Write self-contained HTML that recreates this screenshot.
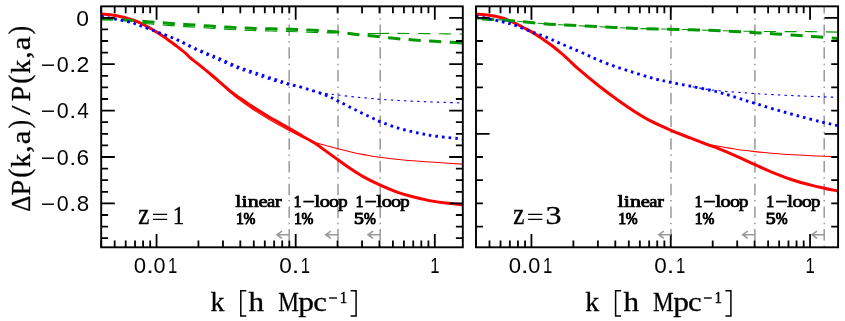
<!DOCTYPE html>
<html><head><meta charset="utf-8"><title>chart</title>
<style>html,body{margin:0;padding:0;background:#fff}svg{display:block}text{fill:#000}</style></head>
<body>
<svg width="845" height="321" viewBox="0 0 845 321">
<defs><clipPath id="c1"><rect x="101.20" y="6.35" width="361.60" height="240.95"/></clipPath><clipPath id="c2"><rect x="476.00" y="6.35" width="362.10" height="240.95"/></clipPath></defs>
<rect width="845" height="321" fill="#fff"/>
<line x1="289.20" y1="1.9" x2="289.20" y2="247.30" stroke="#999999" stroke-width="1.5" stroke-dasharray="11.5 4.86 1.5 4.86" clip-path="url(#c1)"/>
<line x1="338.00" y1="1.9" x2="338.00" y2="247.30" stroke="#999999" stroke-width="1.5" stroke-dasharray="11.5 4.86 1.5 4.86" clip-path="url(#c1)"/>
<line x1="380.20" y1="1.9" x2="380.20" y2="247.30" stroke="#999999" stroke-width="1.5" stroke-dasharray="11.5 4.86 1.5 4.86" clip-path="url(#c1)"/>
<line x1="671.00" y1="1.9" x2="671.00" y2="247.30" stroke="#999999" stroke-width="1.5" stroke-dasharray="11.5 4.86 1.5 4.86" clip-path="url(#c2)"/>
<line x1="754.90" y1="1.9" x2="754.90" y2="247.30" stroke="#999999" stroke-width="1.5" stroke-dasharray="11.5 4.86 1.5 4.86" clip-path="url(#c2)"/>
<line x1="824.20" y1="1.9" x2="824.20" y2="247.30" stroke="#999999" stroke-width="1.5" stroke-dasharray="11.5 4.86 1.5 4.86" clip-path="url(#c2)"/>
<g clip-path="url(#c1)">
<path d="M198.90 64.80 C201.02 66.60 207.77 72.25 211.60 75.60 C215.43 78.95 219.10 82.35 221.90 84.90 C224.70 87.45 226.05 88.85 228.40 90.90 C230.75 92.95 233.73 95.40 236.00 97.20 C238.27 99.00 239.87 100.15 242.00 101.70 C244.13 103.25 246.63 105.00 248.80 106.50 C250.97 108.00 251.82 108.67 255.00 110.70 C258.18 112.73 262.28 115.45 267.90 118.70 C273.52 121.95 282.93 127.12 288.70 130.20 C294.47 133.28 298.33 135.23 302.50 137.20 C306.67 139.17 309.95 140.67 313.70 142.00 C317.45 143.33 320.95 144.07 325.00 145.20 C329.05 146.33 333.50 147.63 338.00 148.80 C342.50 149.97 347.43 151.18 352.00 152.20 C356.57 153.22 360.73 154.05 365.40 154.90 C370.07 155.75 373.62 156.45 380.00 157.30 C386.38 158.15 396.00 159.25 403.70 160.00 C411.40 160.75 418.70 161.27 426.20 161.80 C433.70 162.33 442.60 162.82 448.70 163.20 C454.80 163.58 460.45 163.95 462.80 164.10" fill="none" stroke="#ff0000" stroke-width="1.1"/>
<path d="M101.20 14.10 C103.53 14.33 110.67 14.75 115.20 15.50 C119.73 16.25 124.62 17.55 128.40 18.60 C132.18 19.65 134.75 20.48 137.90 21.80 C141.05 23.12 144.15 24.77 147.30 26.50 C150.45 28.23 153.63 30.22 156.80 32.20 C159.97 34.18 163.13 36.18 166.30 38.40 C169.47 40.62 172.65 43.08 175.80 45.50 C178.95 47.92 182.83 50.88 185.20 52.90 C187.57 54.92 187.72 55.65 190.00 57.60 C192.28 59.55 195.30 61.70 198.90 64.60 C202.50 67.50 207.77 71.78 211.60 75.00 C215.43 78.22 219.10 81.47 221.90 83.90 C224.70 86.33 226.05 87.68 228.40 89.60 C230.75 91.52 233.73 93.73 236.00 95.40 C238.27 97.07 239.87 98.13 242.00 99.60 C244.13 101.07 246.63 102.75 248.80 104.20 C250.97 105.65 251.82 106.28 255.00 108.30 C258.18 110.32 262.28 113.00 267.90 116.30 C273.52 119.60 282.93 124.78 288.70 128.10 C294.47 131.42 298.33 133.78 302.50 136.20 C306.67 138.62 309.95 140.23 313.70 142.60 C317.45 144.97 320.95 147.53 325.00 150.40 C329.05 153.27 333.85 156.82 338.00 159.80 C342.15 162.78 345.72 165.50 349.90 168.30 C354.08 171.10 358.13 173.83 363.10 176.60 C368.07 179.37 374.17 182.37 379.70 184.90 C385.23 187.43 390.78 189.82 396.30 191.80 C401.82 193.78 407.28 195.33 412.80 196.80 C418.32 198.27 423.87 199.55 429.40 200.60 C434.93 201.65 440.43 202.40 446.00 203.10 C451.57 203.80 460.00 204.52 462.80 204.80" fill="none" stroke="#ff0000" stroke-width="3.0"/>
<path d="M101.20 18.90 C105.10 19.07 116.92 19.10 124.60 19.90 C132.28 20.70 140.03 22.80 147.30 23.72 C154.57 24.63 161.25 24.87 168.20 25.40 C175.15 25.93 182.07 26.43 189.00 26.90 C195.93 27.37 202.85 27.77 209.80 28.20 C216.75 28.63 223.75 29.12 230.70 29.50 C237.65 29.88 241.78 30.17 251.50 30.50 C261.22 30.83 278.67 31.17 289.00 31.50 C299.33 31.83 305.78 32.24 313.50 32.50 C321.22 32.76 331.67 32.96 335.30 33.05" fill="none" stroke="#009a00" stroke-width="1.1" stroke-dasharray="12 8.55"/>
<path d="M367.70 33.45 C369.27 33.46 375.53 33.49 377.10 33.50" fill="none" stroke="#009a00" stroke-width="1.1"/>
<path d="M377.10 33.50 C379.65 33.48 386.22 33.40 392.40 33.40 C398.58 33.40 406.03 33.43 414.20 33.50 C422.37 33.57 433.30 33.70 441.40 33.80 C449.50 33.90 459.23 34.05 462.80 34.10" fill="none" stroke="#009a00" stroke-width="1.1" stroke-dasharray="12 8.6"/>
<path d="M101.20 18.90 C105.10 19.07 116.92 19.42 124.60 19.90 C132.28 20.38 140.03 21.22 147.30 21.77 C154.57 22.32 161.25 22.71 168.20 23.20 C175.15 23.69 182.07 24.23 189.00 24.70 C195.93 25.17 202.85 25.57 209.80 26.00 C216.75 26.43 223.75 26.92 230.70 27.30 C237.65 27.68 241.78 27.97 251.50 28.30 C261.22 28.63 278.67 28.97 289.00 29.30 C299.33 29.63 305.78 29.88 313.50 30.30 C321.22 30.72 328.50 31.15 335.30 31.80 C342.10 32.45 348.02 33.52 354.30 34.20 C360.58 34.88 366.42 35.22 373.00 35.90 C379.58 36.58 387.00 37.62 393.80 38.30 C400.60 38.98 407.00 39.50 413.80 40.00 C420.60 40.50 427.67 40.87 434.60 41.30 C441.53 41.73 450.70 42.32 455.40 42.60 C460.10 42.88 461.57 42.93 462.80 43.00" fill="none" stroke="#009a00" stroke-width="3.0" stroke-dasharray="12.2 8.35"/>
<path d="M101.20 16.50 C105.73 17.38 121.97 20.28 128.40 21.80 C134.83 23.32 135.07 23.90 139.80 25.60 C144.53 27.30 151.43 29.91 156.80 32.01 C162.17 34.11 167.58 36.24 172.00 38.18 C176.42 40.11 179.52 41.71 183.30 43.62 C187.08 45.54 190.58 47.65 194.70 49.68 C198.82 51.70 203.82 53.91 208.00 55.78 C212.18 57.66 215.00 58.78 219.80 60.90 C224.60 63.02 230.80 66.13 236.80 68.50 C242.80 70.87 249.48 72.95 255.80 75.10 C262.12 77.25 269.18 79.71 274.70 81.40 C280.22 83.09 283.72 84.03 288.90 85.22 C294.08 86.40 302.98 87.97 305.80 88.52" fill="none" stroke="#0000ff" stroke-width="1.1" stroke-dasharray="2.3 4.3"/>
<path d="M305.80 89.30 C308.95 89.97 319.33 92.35 324.70 93.30 C330.07 94.25 332.95 94.38 338.00 95.00 C343.05 95.62 349.33 96.42 355.00 97.00 C360.67 97.58 367.82 98.12 372.00 98.50 C376.18 98.88 374.65 98.92 380.10 99.30 C385.55 99.68 395.87 100.35 404.70 100.80 C413.53 101.25 423.42 101.63 433.10 102.00 C442.78 102.37 457.85 102.83 462.80 103.00" fill="none" stroke="#0000ff" stroke-width="1.1" stroke-dasharray="2.4 4.2"/>
<path d="M101.20 16.50 C105.73 17.38 121.97 20.28 128.40 21.80 C134.83 23.32 135.07 23.93 139.80 25.60 C144.53 27.27 151.43 29.82 156.80 31.80 C162.17 33.78 167.58 35.70 172.00 37.50 C176.42 39.30 179.52 40.80 183.30 42.60 C187.08 44.40 190.58 46.40 194.70 48.30 C198.82 50.20 203.82 52.23 208.00 54.00 C212.18 55.77 215.00 56.82 219.80 58.90 C224.60 60.98 230.80 64.13 236.80 66.50 C242.80 68.87 249.48 70.95 255.80 73.10 C262.12 75.25 269.18 77.60 274.70 79.40 C280.22 81.20 283.72 82.38 288.90 83.90 C294.08 85.42 299.83 86.68 305.80 88.50 C311.77 90.32 319.33 92.72 324.70 94.80 C330.07 96.88 332.92 98.50 338.00 101.00 C343.08 103.50 349.53 106.98 355.20 109.80 C360.87 112.62 367.85 115.92 372.00 117.90 C376.15 119.88 375.60 119.97 380.10 121.70 C384.60 123.43 392.68 126.42 399.00 128.30 C405.32 130.18 411.68 131.67 418.00 133.00 C424.32 134.33 429.43 135.30 436.90 136.30 C444.37 137.30 458.48 138.55 462.80 139.00" fill="none" stroke="#0000ff" stroke-width="2.9" stroke-dasharray="2.6 4.0"/>
</g>
<g clip-path="url(#c2)">
<path d="M671.00 130.30 C674.32 131.58 684.73 135.72 690.90 138.00 C697.07 140.28 703.37 142.62 708.00 144.00 C712.63 145.38 713.80 145.38 718.70 146.30 C723.60 147.22 731.33 148.62 737.40 149.50 C743.47 150.38 748.87 150.93 755.10 151.60 C761.33 152.27 768.40 152.97 774.80 153.50 C781.20 154.03 787.28 154.42 793.50 154.80 C799.72 155.18 804.67 155.47 812.10 155.80 C819.53 156.13 833.77 156.63 838.10 156.80" fill="none" stroke="#ff0000" stroke-width="1.1"/>
<path d="M476.00 14.10 C478.22 14.28 484.88 14.55 489.30 15.20 C493.72 15.85 498.40 16.75 502.50 18.00 C506.60 19.25 510.43 21.12 513.90 22.70 C517.37 24.28 520.15 25.85 523.30 27.50 C526.45 29.15 529.63 30.72 532.80 32.60 C535.97 34.48 539.13 36.65 542.30 38.80 C545.47 40.95 548.65 43.10 551.80 45.50 C554.95 47.90 558.37 50.78 561.20 53.20 C564.03 55.62 565.85 57.30 568.80 60.00 C571.75 62.70 573.87 65.07 578.90 69.40 C583.93 73.73 592.65 80.98 599.00 86.00 C605.35 91.02 611.15 95.30 617.00 99.50 C622.85 103.70 628.42 107.58 634.10 111.20 C639.78 114.82 644.95 118.02 651.10 121.20 C657.25 124.38 664.37 127.47 671.00 130.30 C677.63 133.13 684.73 135.78 690.90 138.20 C697.07 140.62 703.37 143.07 708.00 144.80 C712.63 146.53 713.80 146.63 718.70 148.60 C723.60 150.57 731.33 153.92 737.40 156.60 C743.47 159.28 748.87 161.92 755.10 164.70 C761.33 167.48 768.40 170.72 774.80 173.30 C781.20 175.88 787.28 178.18 793.50 180.20 C799.72 182.22 806.97 184.07 812.10 185.40 C817.23 186.73 819.97 187.27 824.30 188.20 C828.63 189.13 835.80 190.53 838.10 191.00" fill="none" stroke="#ff0000" stroke-width="3.0"/>
<path d="M476.00 18.90 C480.10 19.07 492.72 19.42 500.60 19.90 C508.48 20.38 516.03 21.17 523.30 21.80 C530.57 22.43 537.25 23.17 544.20 23.70 C551.15 24.23 558.07 24.60 565.00 25.00 C571.93 25.40 578.85 25.75 585.80 26.10 C592.75 26.45 599.75 26.78 606.70 27.10 C613.65 27.42 621.95 27.75 627.50 28.00 C633.05 28.25 632.87 28.40 640.00 28.60 C647.13 28.80 661.47 29.00 670.30 29.20 C679.13 29.40 684.27 29.53 693.00 29.80 C701.73 30.07 714.17 30.57 722.70 30.80 C731.23 31.03 737.02 31.08 744.20 31.20 C751.38 31.32 758.37 31.43 765.80 31.50 C773.23 31.57 781.37 31.58 788.80 31.60 C796.23 31.62 802.18 31.52 810.40 31.60 C818.62 31.68 833.48 32.02 838.10 32.10" fill="none" stroke="#009a00" stroke-width="1.1" stroke-dasharray="12 8.6"/>
<path d="M476.00 18.90 C480.10 19.07 492.72 19.42 500.60 19.90 C508.48 20.38 516.03 21.17 523.30 21.80 C530.57 22.43 537.25 23.17 544.20 23.70 C551.15 24.23 558.07 24.60 565.00 25.00 C571.93 25.40 578.85 25.75 585.80 26.10 C592.75 26.45 599.75 26.78 606.70 27.10 C613.65 27.42 621.95 27.75 627.50 28.00 C633.05 28.25 632.87 28.40 640.00 28.60 C647.13 28.80 661.47 29.00 670.30 29.20 C679.13 29.40 685.55 29.60 693.00 29.80 C700.45 30.00 708.00 30.12 715.00 30.40 C722.00 30.68 728.33 31.12 735.00 31.50 C741.67 31.88 748.33 32.30 755.00 32.70 C761.67 33.10 768.20 33.47 775.00 33.90 C781.80 34.33 788.88 34.82 795.80 35.30 C802.72 35.78 809.45 36.25 816.50 36.80 C823.55 37.35 834.50 38.30 838.10 38.60" fill="none" stroke="#009a00" stroke-width="3.0" stroke-dasharray="12.2 8.4" stroke-dashoffset="14.6"/>
<path d="M692.60 86.80 C694.67 87.17 700.55 88.33 705.00 89.00 C709.45 89.67 714.07 90.27 719.30 90.80 C724.53 91.33 730.48 91.73 736.40 92.20 C742.32 92.67 748.18 93.17 754.80 93.60 C761.42 94.03 768.75 94.42 776.10 94.80 C783.45 95.18 791.32 95.57 798.90 95.90 C806.48 96.23 815.07 96.57 821.60 96.80 C828.13 97.03 835.35 97.22 838.10 97.30" fill="none" stroke="#0000ff" stroke-width="1.1" stroke-dasharray="2.4 4.2"/>
<path d="M476.00 16.10 C480.42 17.05 495.87 20.22 502.50 21.80 C509.13 23.38 510.75 23.87 515.80 25.60 C520.85 27.33 527.43 30.15 532.80 32.20 C538.17 34.25 543.58 36.10 548.00 37.90 C552.42 39.70 555.52 41.35 559.30 43.00 C563.08 44.65 566.58 46.05 570.70 47.80 C574.82 49.55 579.47 51.48 584.00 53.50 C588.53 55.52 592.43 57.63 597.90 59.90 C603.37 62.17 610.48 64.90 616.80 67.10 C623.12 69.30 629.48 71.15 635.80 73.10 C642.12 75.05 648.87 77.25 654.70 78.80 C660.53 80.35 664.48 81.10 670.80 82.40 C677.12 83.70 685.02 85.07 692.60 86.60 C700.18 88.13 709.00 89.77 716.30 91.60 C723.60 93.43 729.98 95.65 736.40 97.60 C742.82 99.55 748.18 101.27 754.80 103.30 C761.42 105.33 768.75 107.67 776.10 109.80 C783.45 111.93 791.32 114.07 798.90 116.10 C806.48 118.13 815.07 120.40 821.60 122.00 C828.13 123.60 835.35 125.08 838.10 125.70" fill="none" stroke="#0000ff" stroke-width="2.9" stroke-dasharray="2.6 4.0"/>
</g>
<rect x="101.20" y="6.35" width="361.60" height="240.95" fill="none" stroke="#000" stroke-width="1.9"/>
<path d="M101.20 6.35 v6.80 M101.20 247.30 v-6.80 M114.68 6.35 v6.80 M114.68 247.30 v-6.80 M125.70 6.35 v6.80 M125.70 247.30 v-6.80 M135.01 6.35 v6.80 M135.01 247.30 v-6.80 M143.08 6.35 v6.80 M143.08 247.30 v-6.80 M150.19 6.35 v6.80 M150.19 247.30 v-6.80 M156.56 6.35 v13.40 M156.56 247.30 v-13.40 M198.44 6.35 v6.80 M198.44 247.30 v-6.80 M222.94 6.35 v6.80 M222.94 247.30 v-6.80 M240.32 6.35 v6.80 M240.32 247.30 v-6.80 M253.80 6.35 v6.80 M253.80 247.30 v-6.80 M264.81 6.35 v6.80 M264.81 247.30 v-6.80 M274.13 6.35 v6.80 M274.13 247.30 v-6.80 M282.20 6.35 v6.80 M282.20 247.30 v-6.80 M289.31 6.35 v6.80 M289.31 247.30 v-6.80 M295.68 6.35 v13.40 M295.68 247.30 v-13.40 M337.56 6.35 v6.80 M337.56 247.30 v-6.80 M362.05 6.35 v6.80 M362.05 247.30 v-6.80 M379.44 6.35 v6.80 M379.44 247.30 v-6.80 M392.92 6.35 v6.80 M392.92 247.30 v-6.80 M403.93 6.35 v6.80 M403.93 247.30 v-6.80 M413.25 6.35 v6.80 M413.25 247.30 v-6.80 M421.31 6.35 v6.80 M421.31 247.30 v-6.80 M428.43 6.35 v6.80 M428.43 247.30 v-6.80 M434.80 6.35 v13.40 M434.80 247.30 v-13.40 M101.20 17.80 h13.6 M462.80 17.80 h-13.6 M101.20 64.20 h13.6 M462.80 64.20 h-13.6 M101.20 110.60 h13.6 M462.80 110.60 h-13.6 M101.20 157.00 h13.6 M462.80 157.00 h-13.6 M101.20 203.40 h13.6 M462.80 203.40 h-13.6 M101.20 29.40 h6.9 M462.80 29.40 h-6.9 M101.20 41.00 h6.9 M462.80 41.00 h-6.9 M101.20 52.60 h6.9 M462.80 52.60 h-6.9 M101.20 75.80 h6.9 M462.80 75.80 h-6.9 M101.20 87.40 h6.9 M462.80 87.40 h-6.9 M101.20 99.00 h6.9 M462.80 99.00 h-6.9 M101.20 122.20 h6.9 M462.80 122.20 h-6.9 M101.20 133.80 h6.9 M462.80 133.80 h-6.9 M101.20 145.40 h6.9 M462.80 145.40 h-6.9 M101.20 168.60 h6.9 M462.80 168.60 h-6.9 M101.20 180.20 h6.9 M462.80 180.20 h-6.9 M101.20 191.80 h6.9 M462.80 191.80 h-6.9 M101.20 215.00 h6.9 M462.80 215.00 h-6.9 M101.20 226.60 h6.9 M462.80 226.60 h-6.9 M101.20 238.20 h6.9 M462.80 238.20 h-6.9" stroke="#000" stroke-width="1.8" fill="none"/>
<rect x="476.00" y="6.35" width="362.10" height="240.95" fill="none" stroke="#000" stroke-width="1.9"/>
<path d="M476.00 6.35 v6.80 M476.00 247.30 v-6.80 M489.50 6.35 v6.80 M489.50 247.30 v-6.80 M500.53 6.35 v6.80 M500.53 247.30 v-6.80 M509.86 6.35 v6.80 M509.86 247.30 v-6.80 M517.94 6.35 v6.80 M517.94 247.30 v-6.80 M525.06 6.35 v6.80 M525.06 247.30 v-6.80 M531.44 6.35 v13.40 M531.44 247.30 v-13.40 M573.37 6.35 v6.80 M573.37 247.30 v-6.80 M597.90 6.35 v6.80 M597.90 247.30 v-6.80 M615.31 6.35 v6.80 M615.31 247.30 v-6.80 M628.81 6.35 v6.80 M628.81 247.30 v-6.80 M639.84 6.35 v6.80 M639.84 247.30 v-6.80 M649.17 6.35 v6.80 M649.17 247.30 v-6.80 M657.25 6.35 v6.80 M657.25 247.30 v-6.80 M664.37 6.35 v6.80 M664.37 247.30 v-6.80 M670.75 6.35 v13.40 M670.75 247.30 v-13.40 M712.68 6.35 v6.80 M712.68 247.30 v-6.80 M737.21 6.35 v6.80 M737.21 247.30 v-6.80 M754.62 6.35 v6.80 M754.62 247.30 v-6.80 M768.12 6.35 v6.80 M768.12 247.30 v-6.80 M779.15 6.35 v6.80 M779.15 247.30 v-6.80 M788.48 6.35 v6.80 M788.48 247.30 v-6.80 M796.56 6.35 v6.80 M796.56 247.30 v-6.80 M803.68 6.35 v6.80 M803.68 247.30 v-6.80 M810.06 6.35 v13.40 M810.06 247.30 v-13.40 M476.00 17.80 h13.6 M838.10 17.80 h-13.6 M476.00 133.80 h13.6 M838.10 133.80 h-13.6 M476.00 41.00 h6.9 M838.10 41.00 h-6.9 M476.00 64.20 h6.9 M838.10 64.20 h-6.9 M476.00 87.40 h6.9 M838.10 87.40 h-6.9 M476.00 110.60 h6.9 M838.10 110.60 h-6.9 M476.00 157.00 h6.9 M838.10 157.00 h-6.9 M476.00 180.20 h6.9 M838.10 180.20 h-6.9 M476.00 203.40 h6.9 M838.10 203.40 h-6.9 M476.00 226.60 h6.9 M838.10 226.60 h-6.9" stroke="#000" stroke-width="1.8" fill="none"/>
<path d="M289.20 234.70 H277.80 M282.00 231.10 L277.00 234.70 L282.00 238.30" stroke="#999999" stroke-width="1.6" fill="none" stroke-linejoin="miter"/>
<path d="M338.00 234.70 H326.60 M330.80 231.10 L325.80 234.70 L330.80 238.30" stroke="#999999" stroke-width="1.6" fill="none" stroke-linejoin="miter"/>
<path d="M380.20 234.70 H368.80 M373.00 231.10 L368.00 234.70 L373.00 238.30" stroke="#999999" stroke-width="1.6" fill="none" stroke-linejoin="miter"/>
<path d="M671.00 234.70 H659.60 M663.80 231.10 L658.80 234.70 L663.80 238.30" stroke="#999999" stroke-width="1.6" fill="none" stroke-linejoin="miter"/>
<path d="M754.90 234.70 H743.50 M747.70 231.10 L742.70 234.70 L747.70 238.30" stroke="#999999" stroke-width="1.6" fill="none" stroke-linejoin="miter"/>
<path d="M824.20 234.70 H812.80 M817.00 231.10 L812.00 234.70 L817.00 238.30" stroke="#999999" stroke-width="1.6" fill="none" stroke-linejoin="miter"/>
<g id="labels" style="opacity:0.999">
<text transform="translate(76.28 25.60) scale(1.096 1.020)" font-family="Liberation Sans" font-weight="normal" font-size="20.9" fill="#000">0</text>
<text transform="translate(40.86 72.00) scale(1.184 1.000)" font-family="Liberation Sans" font-weight="normal" font-size="20.9" fill="#000">−</text>
<text transform="translate(56.74 72.00) scale(1.027 1.020)" font-family="Liberation Sans" font-weight="normal" font-size="20.9" fill="#000">0</text>
<text transform="translate(69.33 72.00) scale(1.209 1.000)" font-family="Liberation Sans" font-weight="normal" font-size="20.9" fill="#000">.</text>
<text transform="translate(76.55 72.00) scale(1.104 1.020)" font-family="Liberation Sans" font-weight="normal" font-size="20.9" fill="#000">2</text>
<text transform="translate(40.86 118.40) scale(1.184 1.000)" font-family="Liberation Sans" font-weight="normal" font-size="20.9" fill="#000">−</text>
<text transform="translate(56.74 118.40) scale(1.027 1.020)" font-family="Liberation Sans" font-weight="normal" font-size="20.9" fill="#000">0</text>
<text transform="translate(69.33 118.40) scale(1.209 1.000)" font-family="Liberation Sans" font-weight="normal" font-size="20.9" fill="#000">.</text>
<text transform="translate(77.28 118.40) scale(0.995 1.020)" font-family="Liberation Sans" font-weight="normal" font-size="20.9" fill="#000">4</text>
<text transform="translate(40.86 164.80) scale(1.184 1.000)" font-family="Liberation Sans" font-weight="normal" font-size="20.9" fill="#000">−</text>
<text transform="translate(56.74 164.80) scale(1.027 1.020)" font-family="Liberation Sans" font-weight="normal" font-size="20.9" fill="#000">0</text>
<text transform="translate(69.33 164.80) scale(1.209 1.000)" font-family="Liberation Sans" font-weight="normal" font-size="20.9" fill="#000">.</text>
<text transform="translate(76.57 164.80) scale(1.080 1.020)" font-family="Liberation Sans" font-weight="normal" font-size="20.9" fill="#000">6</text>
<text transform="translate(40.86 211.20) scale(1.184 1.000)" font-family="Liberation Sans" font-weight="normal" font-size="20.9" fill="#000">−</text>
<text transform="translate(56.74 211.20) scale(1.027 1.020)" font-family="Liberation Sans" font-weight="normal" font-size="20.9" fill="#000">0</text>
<text transform="translate(69.33 211.20) scale(1.209 1.000)" font-family="Liberation Sans" font-weight="normal" font-size="20.9" fill="#000">.</text>
<text transform="translate(76.69 211.20) scale(1.069 1.020)" font-family="Liberation Sans" font-weight="normal" font-size="20.9" fill="#000">8</text>
<text transform="translate(133.82 273.40) scale(1.062 1.020)" font-family="Liberation Sans" font-weight="normal" font-size="20.9" fill="#000">0</text>
<text transform="translate(146.22 273.40) scale(1.300 1.020)" font-family="Liberation Sans" font-weight="normal" font-size="20.9" fill="#000">.</text>
<text transform="translate(153.49 273.40) scale(1.037 1.020)" font-family="Liberation Sans" font-weight="normal" font-size="20.9" fill="#000">0</text>
<text transform="translate(168.12 273.40) scale(0.800 1.020)" font-family="Liberation Sans" font-weight="normal" font-size="20.9" fill="#000">1</text>
<text transform="translate(279.28 273.40) scale(1.077 1.020)" font-family="Liberation Sans" font-weight="normal" font-size="20.9" fill="#000">0</text>
<text transform="translate(291.79 273.40) scale(1.300 1.020)" font-family="Liberation Sans" font-weight="normal" font-size="20.9" fill="#000">.</text>
<text transform="translate(300.84 273.40) scale(0.800 1.020)" font-family="Liberation Sans" font-weight="normal" font-size="20.9" fill="#000">1</text>
<text transform="translate(430.16 273.40) scale(0.800 1.020)" font-family="Liberation Sans" font-weight="normal" font-size="20.9" fill="#000">1</text>
<text transform="translate(508.70 273.40) scale(1.062 1.020)" font-family="Liberation Sans" font-weight="normal" font-size="20.9" fill="#000">0</text>
<text transform="translate(521.10 273.40) scale(1.300 1.020)" font-family="Liberation Sans" font-weight="normal" font-size="20.9" fill="#000">.</text>
<text transform="translate(528.37 273.40) scale(1.037 1.020)" font-family="Liberation Sans" font-weight="normal" font-size="20.9" fill="#000">0</text>
<text transform="translate(543.00 273.40) scale(0.800 1.020)" font-family="Liberation Sans" font-weight="normal" font-size="20.9" fill="#000">1</text>
<text transform="translate(654.35 273.40) scale(1.077 1.020)" font-family="Liberation Sans" font-weight="normal" font-size="20.9" fill="#000">0</text>
<text transform="translate(666.86 273.40) scale(1.300 1.020)" font-family="Liberation Sans" font-weight="normal" font-size="20.9" fill="#000">.</text>
<text transform="translate(675.91 273.40) scale(0.800 1.020)" font-family="Liberation Sans" font-weight="normal" font-size="20.9" fill="#000">1</text>
<text transform="translate(805.42 273.40) scale(0.800 1.020)" font-family="Liberation Sans" font-weight="normal" font-size="20.9" fill="#000">1</text>
<text transform="translate(210.54 310.80) scale(1.053 1.000)" font-family="Liberation Serif" font-weight="normal" font-size="26.5" fill="#000" stroke="#000" stroke-width="0.3">k</text>
<text transform="translate(248.59 310.80) scale(1.176 1.000)" font-family="Liberation Serif" font-weight="normal" font-size="26.5" fill="#000" stroke="#000" stroke-width="0.3">h</text>
<text transform="translate(278.20 310.80) scale(0.877 1.000)" font-family="Liberation Serif" font-weight="normal" font-size="26.5" fill="#000" stroke="#000" stroke-width="0.3">M</text>
<text transform="translate(298.33 310.80) scale(1.187 1.000)" font-family="Liberation Serif" font-weight="normal" font-size="26.5" fill="#000" stroke="#000" stroke-width="0.3">p</text>
<text transform="translate(313.17 310.80) scale(1.157 1.000)" font-family="Liberation Serif" font-weight="normal" font-size="26.5" fill="#000" stroke="#000" stroke-width="0.3">c</text>
<text transform="translate(339.63 303.20) scale(0.910 1.000)" font-family="Liberation Serif" font-weight="normal" font-size="16.4" fill="#000" stroke="#000" stroke-width="0.4">1</text>
<path d="M329.10 298 H337.00" stroke="#000" stroke-width="1.4" fill="none"/>
<path d="M246.30 290.8 H240.80 V315.9 H246.30" stroke="#000" stroke-width="1.5" fill="none"/>
<path d="M350.60 290.8 H356.10 V315.9 H350.60" stroke="#000" stroke-width="1.5" fill="none"/>
<text transform="translate(585.34 310.80) scale(1.053 1.000)" font-family="Liberation Serif" font-weight="normal" font-size="26.5" fill="#000" stroke="#000" stroke-width="0.3">k</text>
<text transform="translate(623.39 310.80) scale(1.176 1.000)" font-family="Liberation Serif" font-weight="normal" font-size="26.5" fill="#000" stroke="#000" stroke-width="0.3">h</text>
<text transform="translate(653.00 310.80) scale(0.877 1.000)" font-family="Liberation Serif" font-weight="normal" font-size="26.5" fill="#000" stroke="#000" stroke-width="0.3">M</text>
<text transform="translate(673.13 310.80) scale(1.187 1.000)" font-family="Liberation Serif" font-weight="normal" font-size="26.5" fill="#000" stroke="#000" stroke-width="0.3">p</text>
<text transform="translate(687.97 310.80) scale(1.157 1.000)" font-family="Liberation Serif" font-weight="normal" font-size="26.5" fill="#000" stroke="#000" stroke-width="0.3">c</text>
<text transform="translate(714.43 303.20) scale(0.910 1.000)" font-family="Liberation Serif" font-weight="normal" font-size="16.4" fill="#000" stroke="#000" stroke-width="0.4">1</text>
<path d="M703.90 298 H711.80" stroke="#000" stroke-width="1.4" fill="none"/>
<path d="M621.10 290.8 H615.60 V315.9 H621.10" stroke="#000" stroke-width="1.5" fill="none"/>
<path d="M725.40 290.8 H730.90 V315.9 H725.40" stroke="#000" stroke-width="1.5" fill="none"/>
<text transform="translate(138.17 224.10) scale(0.948 1.080)" font-family="Liberation Serif" font-weight="normal" font-size="26.5" fill="#000" stroke="#000" stroke-width="0.35">z</text>
<path d="M153.00 214.3 H167.20 M153.00 219.4 H167.20" stroke="#000" stroke-width="1.3" fill="none"/>
<text transform="translate(172.84 224.10) scale(0.909 1.000)" font-family="Liberation Serif" font-weight="normal" font-size="25.4" fill="#000" stroke="#000" stroke-width="0.35">1</text>
<text transform="translate(513.27 224.10) scale(0.948 1.080)" font-family="Liberation Serif" font-weight="normal" font-size="26.5" fill="#000" stroke="#000" stroke-width="0.35">z</text>
<path d="M528.10 214.3 H542.30 M528.10 219.4 H542.30" stroke="#000" stroke-width="1.3" fill="none"/>
<text transform="translate(545.56 224.10) scale(1.262 1.000)" font-family="Liberation Serif" font-weight="normal" font-size="25.4" fill="#000" stroke="#000" stroke-width="0.35">3</text>
<g transform="translate(29.7 0) rotate(-90)">
<text transform="translate(-211.71 0.00) scale(0.948 1.040)" font-family="Liberation Serif" font-weight="normal" font-size="26.5" fill="#000" stroke="#000" stroke-width="0.3">Δ</text>
<text transform="translate(-195.45 0.00) scale(1.066 1.040)" font-family="Liberation Serif" font-weight="normal" font-size="26.5" fill="#000" stroke="#000" stroke-width="0.3">P</text>
<text transform="translate(-177.82 -1.10) scale(1.021 1.090)" font-family="Liberation Serif" font-weight="normal" font-size="26.5" fill="#000" stroke="#000" stroke-width="0.3">(</text>
<text transform="translate(-167.66 0.00) scale(1.061 1.040)" font-family="Liberation Serif" font-weight="normal" font-size="26.5" fill="#000" stroke="#000" stroke-width="0.3">k</text>
<text transform="translate(-152.69 0.00) scale(1.119 1.040)" font-family="Liberation Serif" font-weight="normal" font-size="26.5" fill="#000" stroke="#000" stroke-width="0.3">,</text>
<text transform="translate(-144.29 0.00) scale(1.175 1.040)" font-family="Liberation Serif" font-weight="normal" font-size="26.5" fill="#000" stroke="#000" stroke-width="0.3">a</text>
<text transform="translate(-128.35 -1.10) scale(0.943 1.090)" font-family="Liberation Serif" font-weight="normal" font-size="26.5" fill="#000" stroke="#000" stroke-width="0.3">)</text>
<text transform="translate(-114.99 0.00) scale(1.300 1.040)" font-family="Liberation Serif" font-weight="normal" font-size="26.5" fill="#000" stroke="#000" stroke-width="0.3">/</text>
<text transform="translate(-101.45 0.00) scale(1.066 1.040)" font-family="Liberation Serif" font-weight="normal" font-size="26.5" fill="#000" stroke="#000" stroke-width="0.3">P</text>
<text transform="translate(-83.82 -1.10) scale(1.021 1.090)" font-family="Liberation Serif" font-weight="normal" font-size="26.5" fill="#000" stroke="#000" stroke-width="0.3">(</text>
<text transform="translate(-73.66 0.00) scale(1.061 1.040)" font-family="Liberation Serif" font-weight="normal" font-size="26.5" fill="#000" stroke="#000" stroke-width="0.3">k</text>
<text transform="translate(-58.69 0.00) scale(1.119 1.040)" font-family="Liberation Serif" font-weight="normal" font-size="26.5" fill="#000" stroke="#000" stroke-width="0.3">,</text>
<text transform="translate(-50.29 0.00) scale(1.175 1.040)" font-family="Liberation Serif" font-weight="normal" font-size="26.5" fill="#000" stroke="#000" stroke-width="0.3">a</text>
<text transform="translate(-34.35 -1.10) scale(0.943 1.090)" font-family="Liberation Serif" font-weight="normal" font-size="26.5" fill="#000" stroke="#000" stroke-width="0.3">)</text>
</g>
<text transform="translate(235.32 207.20) scale(1.350 1.000)" font-family="Liberation Serif" font-weight="normal" font-size="16.3" fill="#000" stroke="#000" stroke-width="0.7">l</text>
<text transform="translate(241.52 207.20) scale(1.350 1.000)" font-family="Liberation Serif" font-weight="normal" font-size="16.3" fill="#000" stroke="#000" stroke-width="0.7">i</text>
<text transform="translate(247.74 207.20) scale(1.350 1.000)" font-family="Liberation Serif" font-weight="normal" font-size="16.3" fill="#000" stroke="#000" stroke-width="0.7">n</text>
<text transform="translate(258.58 207.20) scale(1.260 1.000)" font-family="Liberation Serif" font-weight="normal" font-size="16.3" fill="#000" stroke="#000" stroke-width="0.7">e</text>
<text transform="translate(266.95 207.20) scale(1.134 1.000)" font-family="Liberation Serif" font-weight="normal" font-size="16.3" fill="#000" stroke="#000" stroke-width="0.7">a</text>
<text transform="translate(275.10 207.20) scale(1.227 1.000)" font-family="Liberation Serif" font-weight="normal" font-size="16.3" fill="#000" stroke="#000" stroke-width="0.7">r</text>
<text transform="translate(235.96 223.90) scale(0.968 1.000)" font-family="Liberation Serif" font-weight="normal" font-size="16.3" fill="#000" stroke="#000" stroke-width="1.0">1</text>
<text transform="translate(243.50 223.90) scale(0.874 1.000)" font-family="Liberation Serif" font-weight="normal" font-size="16.3" fill="#000" stroke="#000" stroke-width="1.0">%</text>
<text transform="translate(293.73 207.20) scale(0.916 1.000)" font-family="Liberation Serif" font-weight="normal" font-size="16.3" fill="#000" stroke="#000" stroke-width="1.0">1</text>
<text transform="translate(302.67 207.20) scale(1.267 1.000)" font-family="Liberation Serif" font-weight="normal" font-size="16.3" fill="#000" stroke="#000" stroke-width="1.0">−</text>
<text transform="translate(314.27 207.20) scale(1.350 1.000)" font-family="Liberation Serif" font-weight="normal" font-size="16.3" fill="#000" stroke="#000" stroke-width="0.7">l</text>
<text transform="translate(319.69 207.20) scale(1.242 1.000)" font-family="Liberation Serif" font-weight="normal" font-size="16.3" fill="#000" stroke="#000" stroke-width="0.7">o</text>
<text transform="translate(328.99 207.20) scale(1.242 1.000)" font-family="Liberation Serif" font-weight="normal" font-size="16.3" fill="#000" stroke="#000" stroke-width="0.7">o</text>
<text transform="translate(338.22 207.20) scale(1.158 1.000)" font-family="Liberation Serif" font-weight="normal" font-size="16.3" fill="#000" stroke="#000" stroke-width="0.7">p</text>
<text transform="translate(293.96 223.90) scale(0.968 1.000)" font-family="Liberation Serif" font-weight="normal" font-size="16.3" fill="#000" stroke="#000" stroke-width="1.0">1</text>
<text transform="translate(301.50 223.90) scale(0.874 1.000)" font-family="Liberation Serif" font-weight="normal" font-size="16.3" fill="#000" stroke="#000" stroke-width="1.0">%</text>
<text transform="translate(355.73 207.20) scale(0.916 1.000)" font-family="Liberation Serif" font-weight="normal" font-size="16.3" fill="#000" stroke="#000" stroke-width="1.0">1</text>
<text transform="translate(364.67 207.20) scale(1.267 1.000)" font-family="Liberation Serif" font-weight="normal" font-size="16.3" fill="#000" stroke="#000" stroke-width="1.0">−</text>
<text transform="translate(376.27 207.20) scale(1.350 1.000)" font-family="Liberation Serif" font-weight="normal" font-size="16.3" fill="#000" stroke="#000" stroke-width="0.7">l</text>
<text transform="translate(381.69 207.20) scale(1.242 1.000)" font-family="Liberation Serif" font-weight="normal" font-size="16.3" fill="#000" stroke="#000" stroke-width="0.7">o</text>
<text transform="translate(390.99 207.20) scale(1.242 1.000)" font-family="Liberation Serif" font-weight="normal" font-size="16.3" fill="#000" stroke="#000" stroke-width="0.7">o</text>
<text transform="translate(400.22 207.20) scale(1.158 1.000)" font-family="Liberation Serif" font-weight="normal" font-size="16.3" fill="#000" stroke="#000" stroke-width="0.7">p</text>
<text transform="translate(354.12 223.90) scale(1.212 1.000)" font-family="Liberation Serif" font-weight="normal" font-size="16.3" fill="#000" stroke="#000" stroke-width="1.0">5</text>
<text transform="translate(364.10 223.90) scale(0.874 1.000)" font-family="Liberation Serif" font-weight="normal" font-size="16.3" fill="#000" stroke="#000" stroke-width="1.0">%</text>
<text transform="translate(617.52 207.20) scale(1.350 1.000)" font-family="Liberation Serif" font-weight="normal" font-size="16.3" fill="#000" stroke="#000" stroke-width="0.7">l</text>
<text transform="translate(623.72 207.20) scale(1.350 1.000)" font-family="Liberation Serif" font-weight="normal" font-size="16.3" fill="#000" stroke="#000" stroke-width="0.7">i</text>
<text transform="translate(629.94 207.20) scale(1.350 1.000)" font-family="Liberation Serif" font-weight="normal" font-size="16.3" fill="#000" stroke="#000" stroke-width="0.7">n</text>
<text transform="translate(640.78 207.20) scale(1.260 1.000)" font-family="Liberation Serif" font-weight="normal" font-size="16.3" fill="#000" stroke="#000" stroke-width="0.7">e</text>
<text transform="translate(649.15 207.20) scale(1.134 1.000)" font-family="Liberation Serif" font-weight="normal" font-size="16.3" fill="#000" stroke="#000" stroke-width="0.7">a</text>
<text transform="translate(657.30 207.20) scale(1.227 1.000)" font-family="Liberation Serif" font-weight="normal" font-size="16.3" fill="#000" stroke="#000" stroke-width="0.7">r</text>
<text transform="translate(618.16 223.90) scale(0.968 1.000)" font-family="Liberation Serif" font-weight="normal" font-size="16.3" fill="#000" stroke="#000" stroke-width="1.0">1</text>
<text transform="translate(625.70 223.90) scale(0.874 1.000)" font-family="Liberation Serif" font-weight="normal" font-size="16.3" fill="#000" stroke="#000" stroke-width="1.0">%</text>
<text transform="translate(694.63 207.20) scale(0.916 1.000)" font-family="Liberation Serif" font-weight="normal" font-size="16.3" fill="#000" stroke="#000" stroke-width="1.0">1</text>
<text transform="translate(703.57 207.20) scale(1.267 1.000)" font-family="Liberation Serif" font-weight="normal" font-size="16.3" fill="#000" stroke="#000" stroke-width="1.0">−</text>
<text transform="translate(715.17 207.20) scale(1.350 1.000)" font-family="Liberation Serif" font-weight="normal" font-size="16.3" fill="#000" stroke="#000" stroke-width="0.7">l</text>
<text transform="translate(720.59 207.20) scale(1.242 1.000)" font-family="Liberation Serif" font-weight="normal" font-size="16.3" fill="#000" stroke="#000" stroke-width="0.7">o</text>
<text transform="translate(729.89 207.20) scale(1.242 1.000)" font-family="Liberation Serif" font-weight="normal" font-size="16.3" fill="#000" stroke="#000" stroke-width="0.7">o</text>
<text transform="translate(739.12 207.20) scale(1.158 1.000)" font-family="Liberation Serif" font-weight="normal" font-size="16.3" fill="#000" stroke="#000" stroke-width="0.7">p</text>
<text transform="translate(694.86 223.90) scale(0.968 1.000)" font-family="Liberation Serif" font-weight="normal" font-size="16.3" fill="#000" stroke="#000" stroke-width="1.0">1</text>
<text transform="translate(702.40 223.90) scale(0.874 1.000)" font-family="Liberation Serif" font-weight="normal" font-size="16.3" fill="#000" stroke="#000" stroke-width="1.0">%</text>
<text transform="translate(766.53 207.20) scale(0.916 1.000)" font-family="Liberation Serif" font-weight="normal" font-size="16.3" fill="#000" stroke="#000" stroke-width="1.0">1</text>
<text transform="translate(775.47 207.20) scale(1.267 1.000)" font-family="Liberation Serif" font-weight="normal" font-size="16.3" fill="#000" stroke="#000" stroke-width="1.0">−</text>
<text transform="translate(787.07 207.20) scale(1.350 1.000)" font-family="Liberation Serif" font-weight="normal" font-size="16.3" fill="#000" stroke="#000" stroke-width="0.7">l</text>
<text transform="translate(792.49 207.20) scale(1.242 1.000)" font-family="Liberation Serif" font-weight="normal" font-size="16.3" fill="#000" stroke="#000" stroke-width="0.7">o</text>
<text transform="translate(801.79 207.20) scale(1.242 1.000)" font-family="Liberation Serif" font-weight="normal" font-size="16.3" fill="#000" stroke="#000" stroke-width="0.7">o</text>
<text transform="translate(811.02 207.20) scale(1.158 1.000)" font-family="Liberation Serif" font-weight="normal" font-size="16.3" fill="#000" stroke="#000" stroke-width="0.7">p</text>
<text transform="translate(765.82 223.90) scale(1.212 1.000)" font-family="Liberation Serif" font-weight="normal" font-size="16.3" fill="#000" stroke="#000" stroke-width="1.0">5</text>
<text transform="translate(775.80 223.90) scale(0.874 1.000)" font-family="Liberation Serif" font-weight="normal" font-size="16.3" fill="#000" stroke="#000" stroke-width="1.0">%</text>
</g>
</svg>
</body></html>
